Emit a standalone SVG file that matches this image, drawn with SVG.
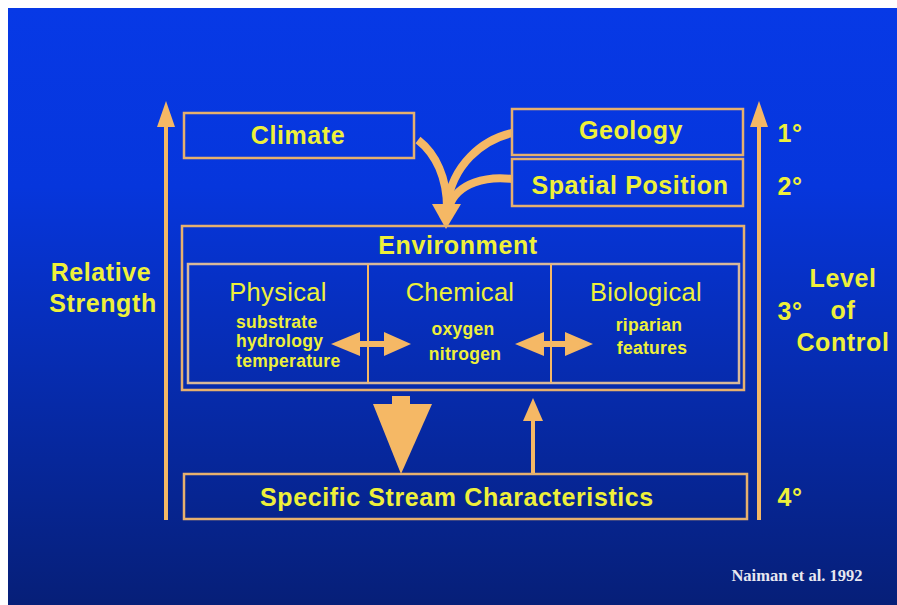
<svg xmlns="http://www.w3.org/2000/svg" width="897" height="605" viewBox="0 0 897 605">
<defs>
<linearGradient id="bg" x1="0" y1="0" x2="0" y2="1">
<stop offset="0" stop-color="#0739E6"/>
<stop offset="0.3" stop-color="#0636DC"/>
<stop offset="1" stop-color="#061F78"/>
</linearGradient>
<style>
.box{fill:none;stroke:#E6B06E;stroke-width:2.5}
.inner{fill:none;stroke:#D8B89A;stroke-width:2.5}
.t{font-family:"Liberation Sans",Arial,sans-serif;font-weight:bold;fill:#EEF03A;text-anchor:middle}
.big{font-size:25px;letter-spacing:0.6px}
.col{font-family:"Liberation Sans",Arial,sans-serif;font-weight:normal;font-size:25.5px;fill:#EEF03A;text-anchor:middle;letter-spacing:0.3px}
.small{font-size:17.5px;letter-spacing:0.3px}
.arr{fill:#F5B865}
.shaft{stroke:#F5B865;fill:none}
</style>
</defs>
<rect x="8" y="8" width="889" height="597" fill="url(#bg)"/>

<g id="connectors">
<line class="shaft" x1="166" y1="520" x2="166" y2="124" stroke-width="4"/>
<polygon class="arr" points="157,127 175,127 166,101"/>
<line class="shaft" x1="759" y1="520" x2="759" y2="124" stroke-width="4"/>
<polygon class="arr" points="750,127 768,127 759,101"/>
<path class="shaft" d="M418,140 C436,154 447,178 447,208" stroke-width="8"/>
<path class="shaft" d="M512,133 C482,140 452,165 447,206" stroke-width="8"/>
<path class="shaft" d="M512,179 C488,176 457,182 449,207" stroke-width="8"/>
<polygon class="arr" points="432,204 461,204 446,229"/>
<polygon class="arr" points="331,344 360,332 360,356"/>
<rect class="arr" x="359" y="341" width="26" height="6"/>
<polygon class="arr" points="384,332 411,344 384,356"/>
<polygon class="arr" points="515,344 544,332 544,356"/>
<rect class="arr" x="543" y="341" width="23" height="6"/>
<polygon class="arr" points="565,332 593,344 565,356"/>
<rect class="arr" x="392" y="396" width="18" height="9"/>
<polygon class="arr" points="373,404 432,404 401,474"/>
<line class="shaft" x1="533" y1="474" x2="533" y2="418" stroke-width="4"/>
<polygon class="arr" points="523,421 543,421 533,398"/>
</g>

<g id="climate">
<rect class="box" x="184" y="113" width="230" height="45"/>
<text class="t big" x="298" y="144">Climate</text>
</g>
<g id="geology">
<rect class="box" x="512" y="109" width="231" height="46"/>
<text class="t big" x="631" y="139">Geology</text>
</g>
<g id="spatial-position">
<rect class="box" x="512" y="159" width="231" height="47"/>
<text class="t big" x="630" y="194">Spatial Position</text>
</g>
<g id="environment">
<rect class="box" x="182" y="226" width="562" height="164"/>
<text class="t big" x="458" y="254">Environment</text>
<rect class="inner" x="188" y="264" width="551" height="119"/>
<line class="shaft" x1="368" y1="264" x2="368" y2="383" stroke-width="2"/>
<line class="shaft" x1="551" y1="264" x2="551" y2="383" stroke-width="2"/>
</g>
<g id="physical">
<text class="col" x="278" y="301">Physical</text>
<text class="t small" x="236" y="328" style="text-anchor:start">substrate</text>
<text class="t small" x="236" y="347" style="text-anchor:start">hydrology</text>
<text class="t small" x="236" y="367" style="text-anchor:start">temperature</text>
</g>
<g id="chemical">
<text class="col" x="460" y="301">Chemical</text>
<text class="t small" x="463" y="335">oxygen</text>
<text class="t small" x="465" y="360">nitrogen</text>
</g>
<g id="biological">
<text class="col" x="646" y="301">Biological</text>
<text class="t small" x="649" y="331">riparian</text>
<text class="t small" x="652" y="354">features</text>
</g>
<g id="stream">
<rect class="box" x="184" y="474" width="563" height="45"/>
<text class="t big" x="457" y="506">Specific Stream Characteristics</text>
</g>
<g id="relative-strength">
<text class="t big" x="101" y="281">Relative</text>
<text class="t big" x="103" y="312">Strength</text>
</g>
<g id="levels">
<text class="t big" x="790" y="142">1°</text>
<text class="t big" x="790" y="195">2°</text>
<text class="t big" x="790" y="320">3°</text>
<text class="t big" x="790" y="506">4°</text>
</g>
<g id="level-of-control">
<text class="t big" x="843" y="287">Level</text>
<text class="t big" x="843" y="319">of</text>
<text class="t big" x="843" y="351">Control</text>
</g>
<text x="797" y="581" font-family="Liberation Serif,Times New Roman,serif" font-weight="bold" font-size="16.5" fill="#E8E8F0" text-anchor="middle">Naiman et al. 1992</text>
</svg>
